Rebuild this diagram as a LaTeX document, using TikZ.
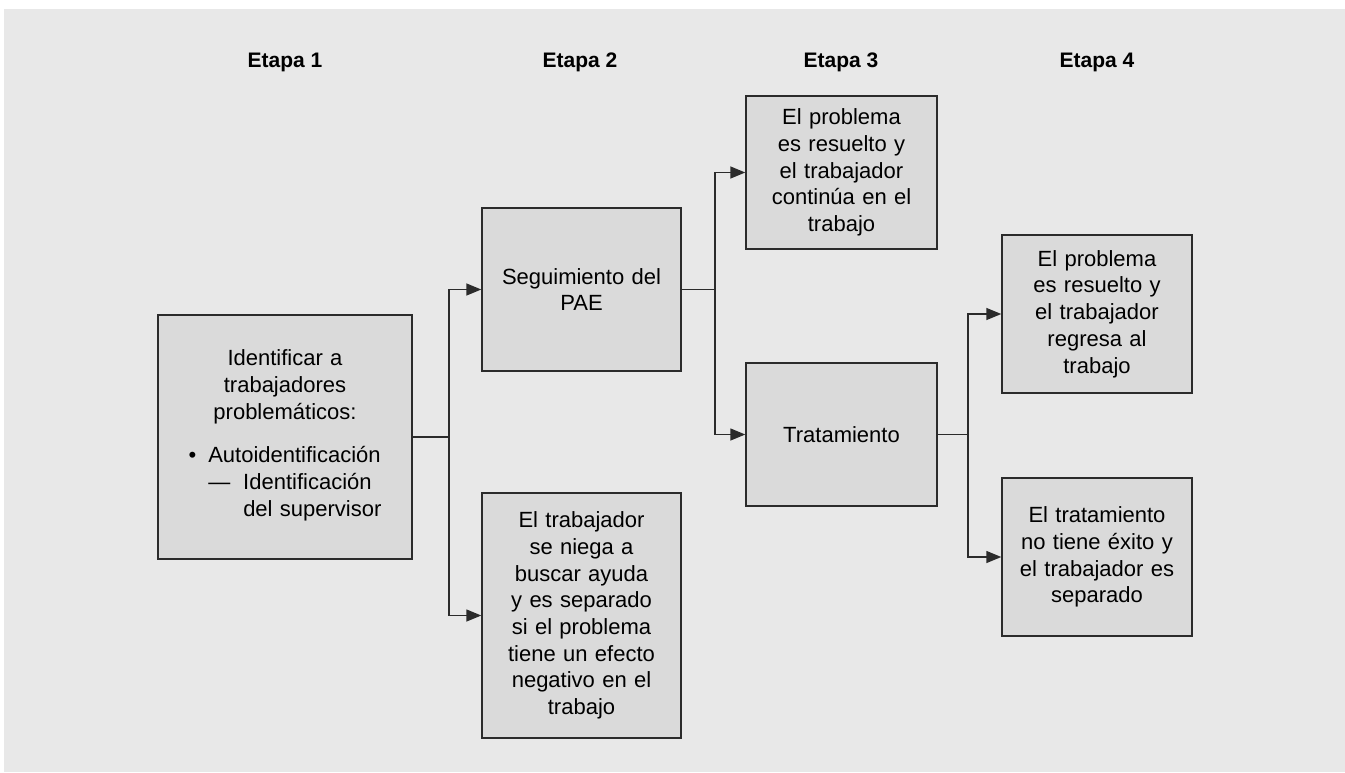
\documentclass[tikz,border=0pt]{standalone}
\usepackage{fontspec}
\setmainfont{Liberation Sans}
\usetikzlibrary{arrows.meta,positioning}
\definecolor{bggray}{HTML}{E8E8E8}
\definecolor{boxgray}{HTML}{DADADA}
\definecolor{linegray}{HTML}{2B2B2B}

\begin{document}
\begin{tikzpicture}[
    x=0.5pt, y=-0.5pt,
    box/.style={draw=linegray, fill=boxgray, line width=0.7pt, align=center,
      text width=82pt, font=\fontsize{11}{13.35}\selectfont, inner sep=2pt},
    stage/.style={font=\fontsize{10.5}{12}\selectfont\bfseries},
    arr/.style={-{Triangle[length=7.5pt, width=6pt]}, line width=0.7pt, draw=linegray},
    conn/.style={line width=0.7pt, draw=linegray}
  ]
  \useasboundingbox (0,0) rectangle (1345,772);
  \fill[bggray] (4,9) rectangle (1345,772);

  % stage headings
  \node[stage] (s1) at (285,62) {Etapa 1};
  \node[stage] (s2) at (580,62) {Etapa 2};
  \node[stage] (s3) at (841,62) {Etapa 3};
  \node[stage] (s4) at (1097,62) {Etapa 4};

  % boxes
  \node[box, text width=118pt, minimum width=127pt, minimum height=122pt] (ident) at (285,437)
    {Identificar a\\trabajadores\\problemáticos:\\[8.3pt]
     \begin{tabular}[t]{@{}l@{\hspace{6pt}}l@{\hspace{6.5pt}}l@{}}
       \textbullet & \multicolumn{2}{@{}l@{}}{Autoidentificación}\\
       & — & Identificación\\
       & & del supervisor
     \end{tabular}};
  \node[box, minimum width=99.5pt, minimum height=81.5pt] (segui) at (581.5,289.5)
    {Seguimiento del\\PAE};
  \node[box, minimum width=99.5pt, minimum height=122.5pt] (niega) at (581.5,615.5)
    {El trabajador\\se niega a\\buscar ayuda\\y es separado\\si el problema\\tiene un efecto\\negativo en el\\trabajo};
  \node[box, minimum width=95.5pt, minimum height=76.5pt] (contin) at (841.5,172.5)
    {El problema\\es resuelto y\\el trabajador\\continúa en el\\trabajo};
  \node[box, minimum width=95.5pt, minimum height=71.5pt] (trat) at (841.5,434.5)
    {Tratamiento};
  \node[box, minimum width=95pt, minimum height=79pt] (regresa) at (1097,314)
    {El problema\\es resuelto y\\el trabajador\\regresa al\\trabajo};
  \node[box, minimum width=95pt, minimum height=79pt] (fracaso) at (1097,557)
    {El tratamiento\\no tiene éxito y\\el trabajador es\\separado};

  % branch points
  \coordinate (j1) at (449,437);
  \coordinate (j2) at (715,289.5);
  \coordinate (j3) at (968,434.5);

  \draw[conn] (ident.east) -- (j1);
  \draw[arr] (j1) |- (segui.west);
  \draw[arr] (j1) |- (niega.west);
  \draw[conn] (segui.east) -- (j2);
  \draw[arr] (j2) |- (contin.west);
  \draw[arr] (j2) |- (trat.west);
  \draw[conn] (trat.east) -- (j3);
  \draw[arr] (j3) |- (regresa.west);
  \draw[arr] (j3) |- (fracaso.west);
\end{tikzpicture}
\end{document}
